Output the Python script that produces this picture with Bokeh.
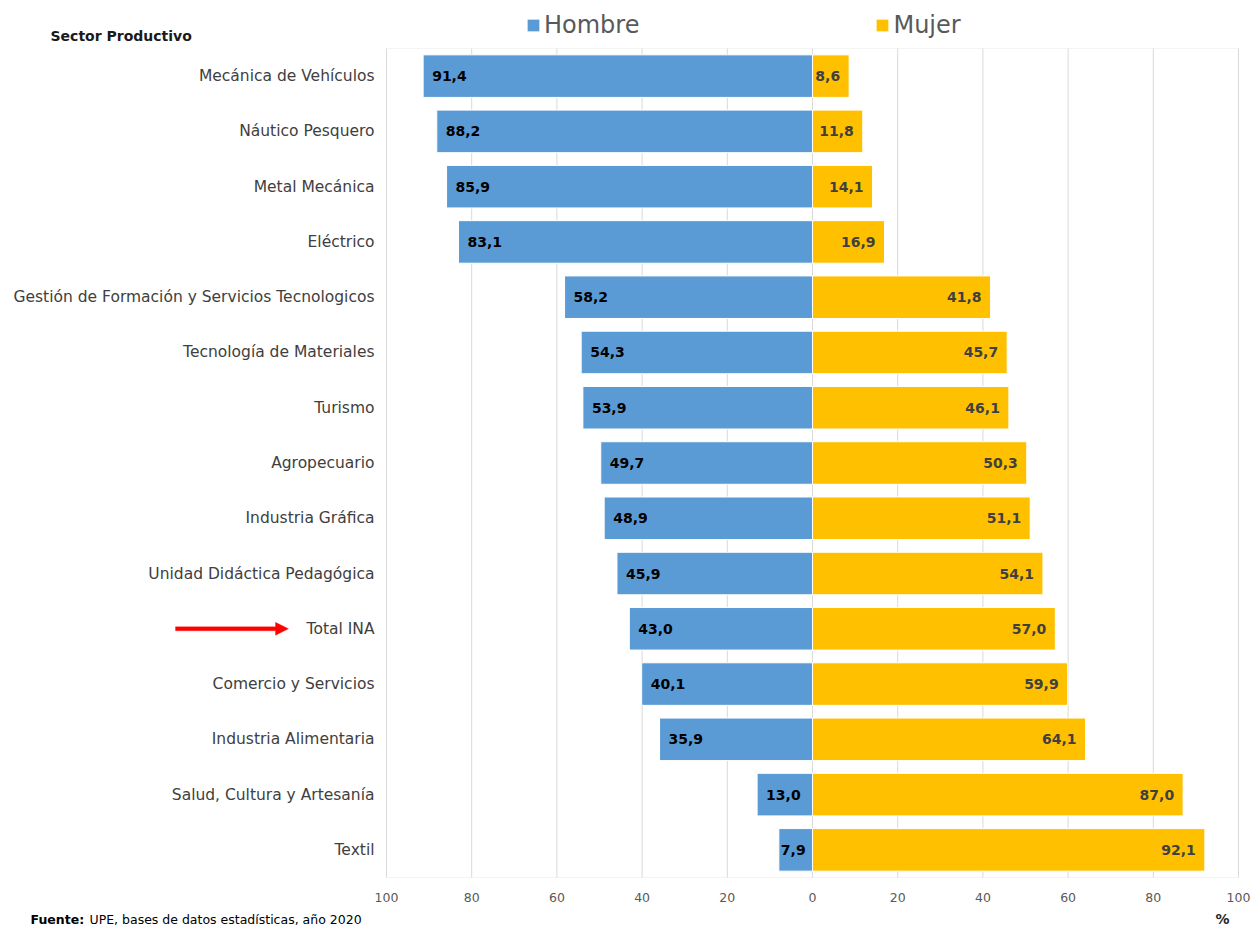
from bokeh.plotting import figure
from bokeh.models import (ColumnDataSource, Range1d, Legend, LegendItem, Label,
                          PolyAnnotation, BoxAnnotation)
from bokeh.core.properties import value
from bokeh.embed import file_html
from bokeh.resources import INLINE

categories = ["Mecánica de Vehículos", "Náutico Pesquero", "Metal Mecánica", "Eléctrico",
              "Gestión de Formación y Servicios Tecnologicos", "Tecnología de Materiales",
              "Turismo", "Agropecuario", "Industria Gráfica", "Unidad Didáctica Pedagógica",
              "Total INA", "Comercio y Servicios", "Industria Alimentaria",
              "Salud, Cultura y Artesanía", "Textil"]
hombre = [91.4, 88.2, 85.9, 83.1, 58.2, 54.3, 53.9, 49.7, 48.9, 45.9, 43.0, 40.1, 35.9, 13.0, 7.9]
mujer = [8.6, 11.8, 14.1, 16.9, 41.8, 45.7, 46.1, 50.3, 51.1, 54.1, 57.0, 59.9, 64.1, 87.0, 92.1]
tick_values = [-100, -80, -60, -40, -20, 0, 20, 40, 60, 80, 100]
series_names = ["Hombre", "Mujer"]
highlight = "Total INA"

BLUE = "#5B9BD5"
GOLD = "#FFC000"
GRID = "#d9d9d9"
FONT = "DejaVu Sans"

def fmt(v):
    return f"{v:.1f}".replace(".", ",")

# canvas / plot-box geometry (pixels)
W, H = 1252, 928
BOX_L, BOX_R, BOX_T, BOX_B = 386, 1238, 48, 877
n = len(categories)
px_x = (BOX_R - BOX_L) / 200.0          # pixels per % unit
px_y = (BOX_B - BOX_T) / n              # pixels per category row

x_range = Range1d(-100 - BOX_L / px_x, 100 + (W - BOX_R) / px_x)
y_range = Range1d(-(H - BOX_B) / px_y, n + BOX_T / px_y)

ypos = [n - i - 0.5 for i in range(n)]

src = ColumnDataSource(dict(
    cat=categories, y=ypos,
    h_left=[-v for v in hombre],
    zero=[0] * n,
    m_right=mujer,
    h_lab=[fmt(v) for v in hombre],
    m_lab=[fmt(v) for v in mujer],
    h_off=[9 if v > 10 else 2 for v in hombre],
    lab_x=[-100] * n,
))
tick_src = ColumnDataSource(dict(
    x=tick_values, y0=[0] * len(tick_values), y1=[n] * len(tick_values),
    lab=[str(abs(t)) for t in tick_values],
))

p = figure(width=W, height=H, output_backend="svg", toolbar_location=None,
           x_range=x_range, y_range=y_range,
           x_axis_location=None, y_axis_location=None,
           min_border_left=0, min_border_right=0, min_border_top=0, min_border_bottom=0,
           background_fill_color="white", border_fill_color="white")
p.grid.visible = False
p.outline_line_color = None

# vertical grid lines and plot box
p.segment(x0="x", y0="y0", x1="x", y1="y1", source=tick_src,
          line_color=GRID, line_width=1, level="underlay")
p.add_layout(BoxAnnotation(left=-100, right=100, bottom=0, top=n,
                           fill_alpha=0, line_color=GRID, line_width=1, level="underlay"))

rh = p.hbar(y="y", left="h_left", right="zero", height=0.77, source=src,
            fill_color=BLUE, line_color="white", line_width=1)
rm = p.hbar(y="y", left="zero", right="m_right", height=0.77, source=src,
            fill_color=GOLD, line_color="white", line_width=1)

# value labels
p.text(x="h_left", y="y", text="h_lab", source=src, x_offset="h_off",
       text_align="left", text_baseline="middle", text_font=value(FONT),
       text_font_style="bold", text_font_size="14px", text_color="#000000")
p.text(x="m_right", y="y", text="m_lab", source=src, x_offset=-9,
       text_align="right", text_baseline="middle", text_font=value(FONT),
       text_font_style="bold", text_font_size="14px", text_color="#404040")

# category labels (left) and tick labels (bottom)
p.text(x="lab_x", y="y", text="cat", source=src, x_offset=-12,
       text_align="right", text_baseline="middle", text_font=value(FONT),
       text_font_size="15.5px", text_color="#404040")
p.text(x="x", y="y0", text="lab", source=tick_src, y_offset=20,
       text_align="center", text_baseline="middle", text_font=value(FONT),
       text_font_size="12.5px", text_color="#595959")

legend = Legend(items=[LegendItem(label=series_names[0], renderers=[rh]),
                       LegendItem(label=series_names[1], renderers=[rm])],
                orientation="horizontal", location=(525, H - 39),
                glyph_width=16, glyph_height=16, label_standoff=3, spacing=235,
                padding=0, margin=0, border_line_color=None, background_fill_alpha=0,
                label_text_font=FONT, label_text_font_size="24px", label_text_color="#595959")
p.add_layout(legend, "center")

p.add_layout(Label(x=50, y=H - 35, x_units="screen", y_units="screen",
                   text="Sector Productivo", text_font=FONT, text_font_style="bold",
                   text_font_size="14px", text_color="#1a1a1a", text_baseline="middle"))
p.add_layout(Label(x=1222, y=H - 918, x_units="screen", y_units="screen",
                   text="%", text_font=FONT, text_font_style="bold", text_align="center",
                   text_font_size="14px", text_color="#262626", text_baseline="middle"))

# source note
p.add_layout(Label(x=30, y=H - 911, x_units="screen", y_units="screen",
                   text="Fuente:", text_font=FONT, text_font_style="bold",
                   text_font_size="12.5px", text_color="#000000", text_baseline="top"))
p.add_layout(Label(x=89, y=H - 911, x_units="screen", y_units="screen",
                   text="UPE, bases de datos estadísticas, año 2020", text_font=FONT,
                   text_font_size="12.5px", text_color="#000000", text_baseline="top"))

# red arrow pointing at the highlighted category
ay = ypos[categories.index(highlight)]
t, hh = 2 / px_y, 6.5 / px_y
x0, xh, xe = 175, 275, 288
p.add_layout(PolyAnnotation(xs=[x0, xh, xh, xe, xh, xh, x0],
                            ys=[ay + t, ay + t, ay + hh, ay, ay - hh, ay - t, ay - t],
                            xs_units="screen", ys_units="data",
                            fill_color="#FF0000", fill_alpha=1.0,
                            line_color="#FF0000", line_width=1))

open("out.html", "w").write(file_html(p, INLINE))
